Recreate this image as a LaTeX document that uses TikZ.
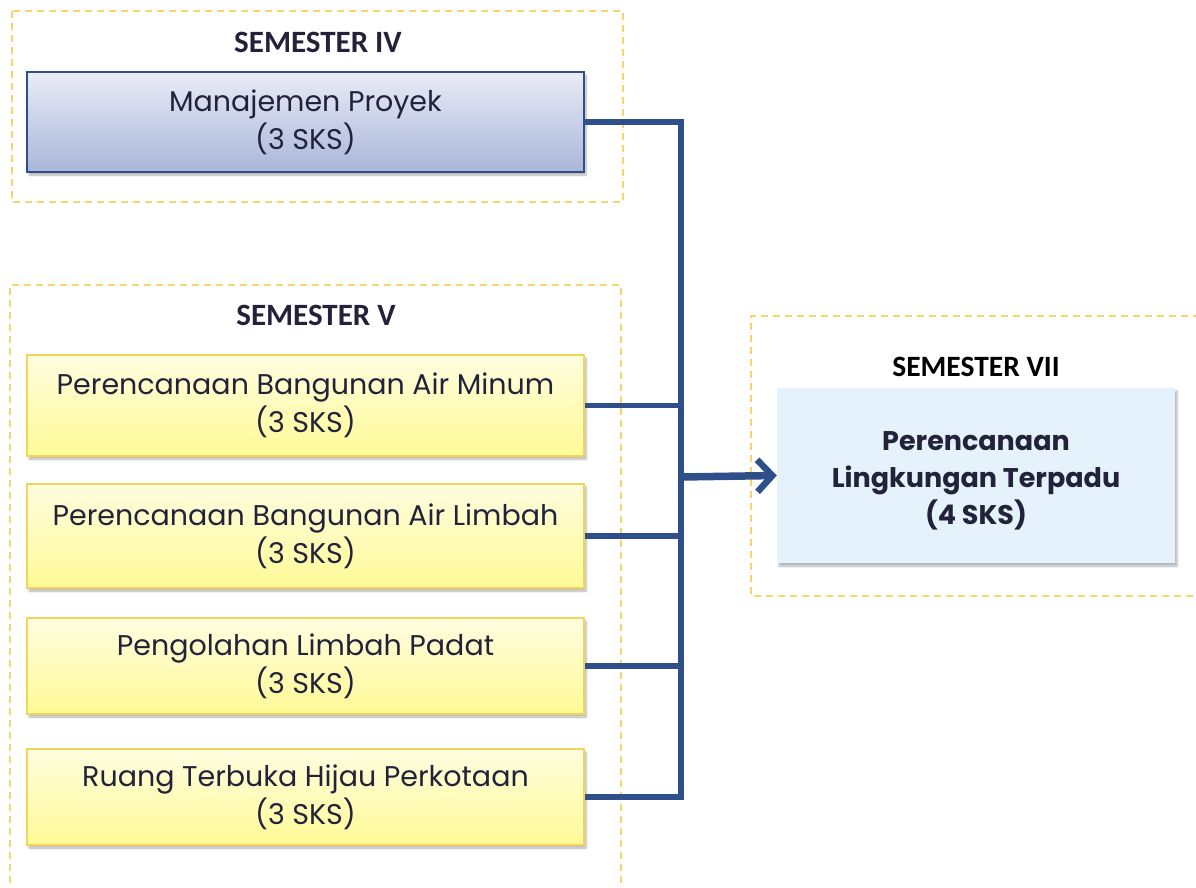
\documentclass[tikz,border=0pt]{standalone}
\usepackage{fontspec}
\setmainfont{Poppins}
\newfontfamily\titlefont{Carlito}
\usetikzlibrary{shadows.blur,arrows.meta}
\definecolor{dashgold}{HTML}{F6D66A}
\definecolor{navy}{HTML}{2F4F8A}
\definecolor{txt}{HTML}{22223A}
\definecolor{boxblueT}{HTML}{E9ECF7}
\definecolor{boxblueB}{HTML}{A9B6DA}
\definecolor{yelT}{HTML}{FFFDE0}
\definecolor{yelB}{HTML}{FFFA96}
\definecolor{yelline}{HTML}{F3D35A}
\definecolor{lightblue}{HTML}{E5F2FC}
\tikzset{
  x=1pt, y=-1pt,
  semframe/.style={draw=dashgold, line width=1.8pt, dash pattern=on 7pt off 5pt},
  semtitle/.style={font=\titlefont\bfseries\fontsize{31}{34}\selectfont, text=txt},
  course/.style={minimum width=557pt, inner sep=0pt, align=center, font=\fontsize{28.5}{38}\selectfont, text=txt,
    blur shadow={shadow xshift=2pt, shadow yshift=-3pt, shadow blur steps=6, shadow opacity=30}},
  yelbox/.style={course, draw=yelline, line width=1.8pt, top color=yelT, bottom color=yelB},
  bluebox/.style={course, minimum height=100pt, draw=navy, line width=1.8pt, top color=boxblueT, bottom color=boxblueB},
  target/.style={minimum width=398pt, minimum height=175pt, inner sep=0pt, fill=lightblue,
    blur shadow={shadow xshift=2pt, shadow yshift=-3pt, shadow blur steps=6, shadow opacity=30}},
  targettext/.style={align=center, inner sep=0pt, font=\bfseries\fontsize{27}{37}\selectfont, text=txt},
  link/.style={draw=navy, line width=5.5pt},
  arr/.style={draw=navy, line width=7.5pt, -{Straight Barb[length=15pt, width=32pt, line width=6.5pt]}}
}
\begin{document}
\begin{tikzpicture}
\useasboundingbox (0,0) rectangle (1196,888);
% frames
\draw[semframe] (12,11) rectangle (623,202);
\draw[semframe] (10,895) -- (10,285) -- (621,285) -- (621,895);
\draw[semframe] (1200,316) -- (751,316) -- (751,596) -- (1200,596);
% titles
\node[semtitle] (t4) at (318,42) {SEMESTER IV};
\node[semtitle] (t5) at (316,315) {SEMESTER V};
\node[semtitle, text=black, font=\titlefont\bfseries\fontsize{29.5}{34}\selectfont] (t7) at (976,367) {SEMESTER VII};
% boxes
\node[bluebox] (mp) at (305.5,122) {Manajemen Proyek\\(3 SKS)};
\node[yelbox, minimum height=101pt] (b1) at (305.5,405.5) {Perencanaan Bangunan Air Minum\\(3 SKS)};
\node[yelbox, minimum height=104pt] (b2) at (305.5,536) {Perencanaan Bangunan Air Limbah\\(3 SKS)};
\node[yelbox, minimum height=96pt] (b3) at (305.5,666) {Pengolahan Limbah Padat\\(3 SKS)};
\node[yelbox, minimum height=96pt] (b4) at (305.5,797) {Ruang Terbuka Hijau Perkotaan\\(3 SKS)};
\node[target] (plt) at (976,475.5) {};
\node[targettext] (pltt) at (976,481) {Perencanaan\\Lingkungan Terpadu\\(4 SKS)};
% connectors
\coordinate (bus) at (681,477);
\draw[link] (mp.east) -- (681,122) |- (b4.east);
\draw[link] (b1.east) -- (b1.east -| bus);
\draw[link] (b2.east) -- (b2.east -| bus);
\draw[link] (b3.east) -- (b3.east -| bus);
\draw[arr] (bus) -- (plt.west);
\end{tikzpicture}
\end{document}
